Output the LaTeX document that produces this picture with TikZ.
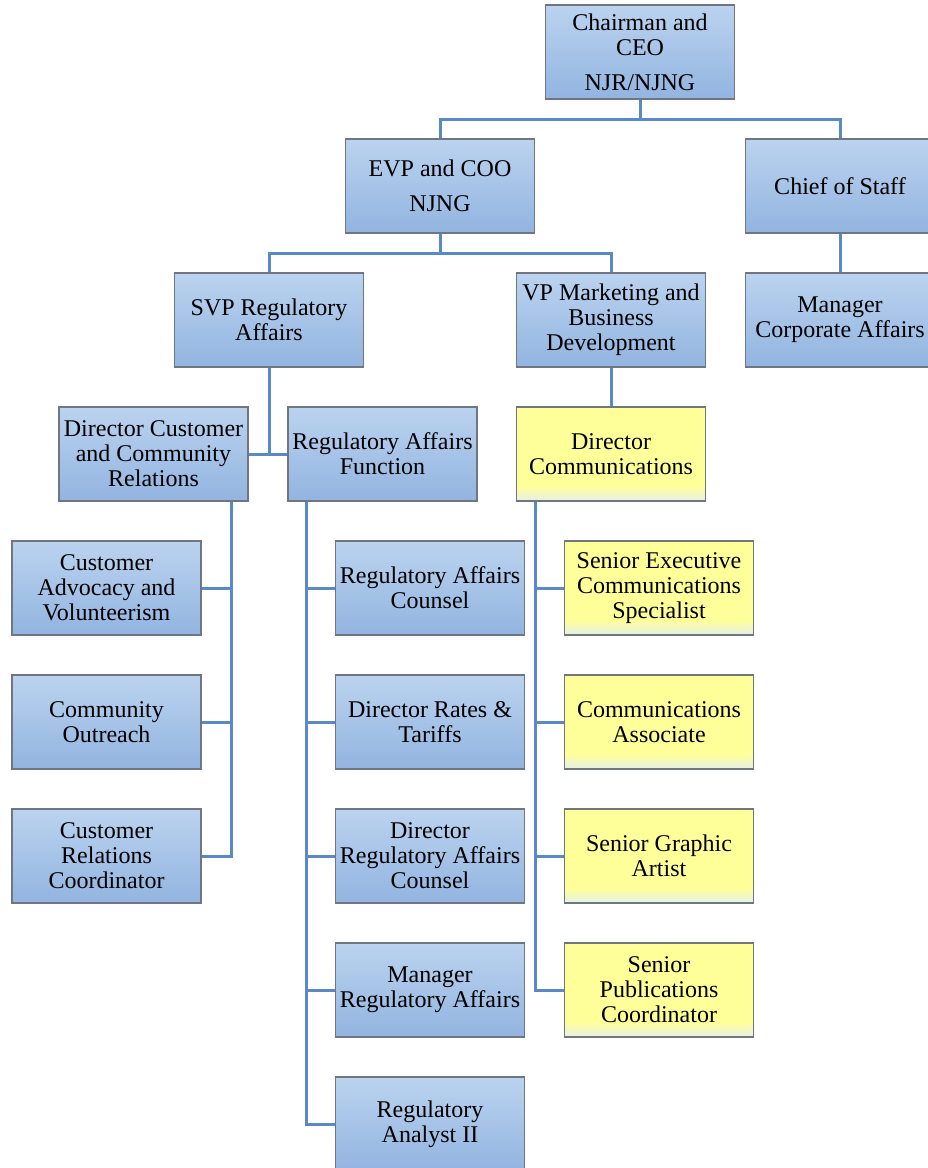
\documentclass[tikz,border=0pt]{standalone}
\usepackage{fontspec}
\setmainfont{Liberation Serif}
\usepackage{xcolor}
\definecolor{BLUEtop}{HTML}{BBD3EF}
\definecolor{BLUEbottom}{HTML}{92B4E0}
\definecolor{YELmain}{HTML}{FFFF99}
\definecolor{YELbottom}{HTML}{E4F0E8}
\definecolor{EDGEcolor}{HTML}{6F7680}
\definecolor{LINKcolor}{HTML}{5A8AC6}
\usepackage{tikz}
\pgfdeclareverticalshading{yellowfade}{100bp}{color(0bp)=(YELbottom); color(25bp)=(YELbottom); color(33bp)=(YELmain); color(100bp)=(YELmain)}

\begin{document}
\begin{tikzpicture}[x=0.5pt, y=-0.5pt]

    \tikzset{%
        box/.style={%
                draw=EDGEcolor, line width=0.7pt, rectangle, align=center,
                minimum width=94.5pt, minimum height=47pt, inner sep=2pt,
                font=\fontsize{12}{12.5}\selectfont
            },
        bluebox/.style={box, top color=BLUEtop, bottom color=BLUEbottom},
        yellowbox/.style={box, shading=yellowfade},
        link/.style={draw=LINKcolor, line width=1.5pt}
    }

    \useasboundingbox (0, 0) rectangle (927, 1168);

    % top levels
    \node [bluebox] (chair) at (640, 52) {Chairman and\\CEO\\[5pt]NJR/NJNG};
    \node [bluebox] (evp) at (440, 186) {EVP and COO\\[5pt]NJNG};
    \node [bluebox] (chief) at (840, 186) {Chief of Staff};
    \node [bluebox] (mca) at (840, 320) {Manager\\Corporate Affairs};
    \node [bluebox] (svp) at (269, 320) {SVP Regulatory\\Affairs};
    \node [bluebox] (vpm) at (611, 320) {VP Marketing and\\Business\\Development};

    \node [bluebox] (dccr) at (153.5, 454) {Director Customer\\and Community\\Relations};
    \node [bluebox] (raf) at (382.5, 454) {Regulatory Affairs\\Function};
    \node [yellowbox] (dcom) at (611, 454) {Director\\Communications};

    % columns
    \node [bluebox] (cav) at (106.5, 588) {Customer\\Advocacy and\\Volunteerism};
    \node [bluebox] (cout) at (106.5, 722) {Community\\Outreach};
    \node [bluebox] (crc) at (106.5, 856) {Customer\\Relations\\Coordinator};

    \node [bluebox] (rac) at (430, 588) {Regulatory Affairs\\Counsel};
    \node [bluebox] (drt) at (430, 722) {Director Rates \&\\Tariffs};
    \node [bluebox] (drac) at (430, 856) {Director\\Regulatory Affairs\\Counsel};
    \node [bluebox] (mra) at (430, 990) {Manager\\Regulatory Affairs};
    \node [bluebox] (ra2) at (430, 1124) {Regulatory\\Analyst II};

    \node [yellowbox] (sec) at (659, 588) {Senior Executive\\Communications\\Specialist};
    \node [yellowbox] (cass) at (659, 722) {Communications\\Associate};
    \node [yellowbox] (sga) at (659, 856) {Senior Graphic\\Artist};
    \node [yellowbox] (spc) at (659, 990) {Senior\\Publications\\Coordinator};

    % connectors
    \coordinate (j1) at ([yshift=-10pt]chair.south);
    \draw [link] (chair.south) -- (j1);
    \draw [link] (evp.north) |- (j1) -| (chief.north);

    \coordinate (j2) at ([yshift=-10pt]evp.south);
    \draw [link] (evp.south) -- (j2);
    \draw [link] (svp.north) |- (j2) -| (vpm.north);

    \draw [link] (chief.south) -- (mca.north);
    \draw [link] (vpm.south) -- (dcom.north);
    \draw [link] (svp.south) -- (svp.south |- dccr.east);
    \draw [link] (dccr.east) -- (raf.west);

    \coordinate (lbus) at ([xshift=-8.5pt]dccr.south east);
    \draw [link] (lbus) |- (crc.east);
    \foreach \n in {cav, cout} {%
            \draw [link] (lbus |- \n.east) -- (\n.east);
        }

    \coordinate (mbus) at ([xshift=9.5pt]raf.south west);
    \draw [link] (mbus) |- (ra2.west);
    \foreach \n in {rac, drt, drac, mra} {%
            \draw [link] (mbus |- \n.west) -- (\n.west);
        }

    \coordinate (rbus) at ([xshift=10pt]dcom.south west);
    \draw [link] (rbus) |- (spc.west);
    \foreach \n in {sec, cass, sga} {%
            \draw [link] (rbus |- \n.west) -- (\n.west);
        }

\end{tikzpicture}
\end{document}
